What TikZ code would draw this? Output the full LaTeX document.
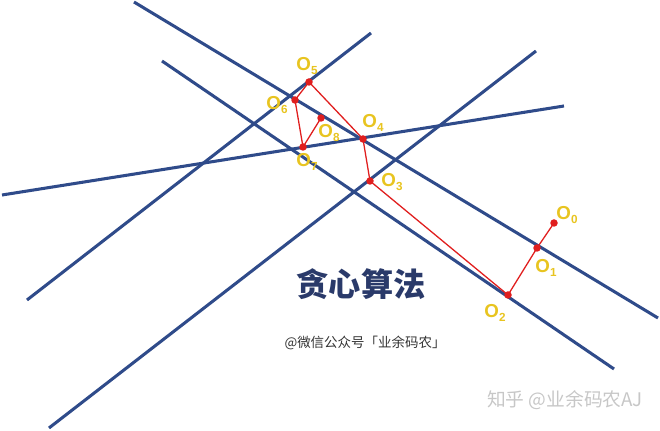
\documentclass[tikz,border=0pt]{standalone}
\usepackage{fontspec}
\setmainfont{Liberation Sans}
\newfontfamily\cjkfont{Noto Sans CJK SC}
\usetikzlibrary{positioning}
\definecolor{greedyBlue}{HTML}{2F4B8A}
\definecolor{greedyRed}{HTML}{E01E1E}
\definecolor{greedyGold}{HTML}{E8C420}
\definecolor{greedyInk}{HTML}{2A3A6A}
\newcommand{\opt}[1]{O\raisebox{-0.45ex}{\fontsize{10}{10}\selectfont #1}}

\begin{document}
\begin{tikzpicture}[x=0.03cm,y=-0.03cm,
   road/.style={draw=greedyBlue,line width=2.6pt},
   hop/.style={draw=greedyRed,line width=1.1pt},
   lbl/.style={text=greedyGold,inner sep=0pt,font=\bfseries\fontsize{16}{16}\selectfont}]
  \useasboundingbox (0,0) rectangle (660,431);
  % the five lines
  \draw[road] (134,2) -- (658,318);
  \draw[road] (162,61) -- (614,369);
  \draw[road] (2,195) -- (564,106);
  \draw[road] (27,300) -- (371,33);
  \draw[road] (49,428) -- (536,51);
  % greedy steps
  \coordinate (o0) at (554,223);
  \coordinate (o1) at (537,248);
  \coordinate (o2) at (508,295);
  \coordinate (o3) at (370,181);
  \coordinate (o4) at (363,139);
  \coordinate (o5) at (309,82);
  \coordinate (o6) at (295,100);
  \coordinate (o7) at (303,147);
  \coordinate (o8) at (321,118);
  \draw[hop] (o0) -- (o1) -- (o2) -- (o3) -- (o4) -- (o5) -- (o6) -- (o7) -- (o8);
  \foreach \p in {o0,o1,o2,o3,o4,o5,o6,o7,o8}
    \fill[greedyRed] (\p) circle (3.2pt);
  \node[lbl] (l0) at (567,215) {\opt{0}};
  \node[lbl] (l1) at (546,268) {\opt{1}};
  \node[lbl] (l2) at (495,313) {\opt{2}};
  \node[lbl] (l3) at (392,182) {\opt{3}};
  \node[lbl] (l4) at (373,123) {\opt{4}};
  \node[lbl] (l5) at (307,66) {\opt{5}};
  \node[lbl] (l6) at (277,105) {\opt{6}};
  \node[lbl] (l7) at (307,162) {\opt{7}};
  \node[lbl] (l8) at (329,133) {\opt{8}};
  % captions
  \node[text=greedyInk,font=\cjkfont\bfseries\fontsize{27.5}{28}\selectfont] (title) at (361,284) {贪心算法};
  \node[text=black!80,font=\cjkfont\fontsize{11.5}{12}\selectfont] (sub) at (365,343) {@微信公众号「业余码农」};
  \node[text=black!22,font=\cjkfont\fontsize{16}{16}\selectfont] (mark) at (565,400) {知乎 @业余码农AJ};
\end{tikzpicture}
\end{document}
